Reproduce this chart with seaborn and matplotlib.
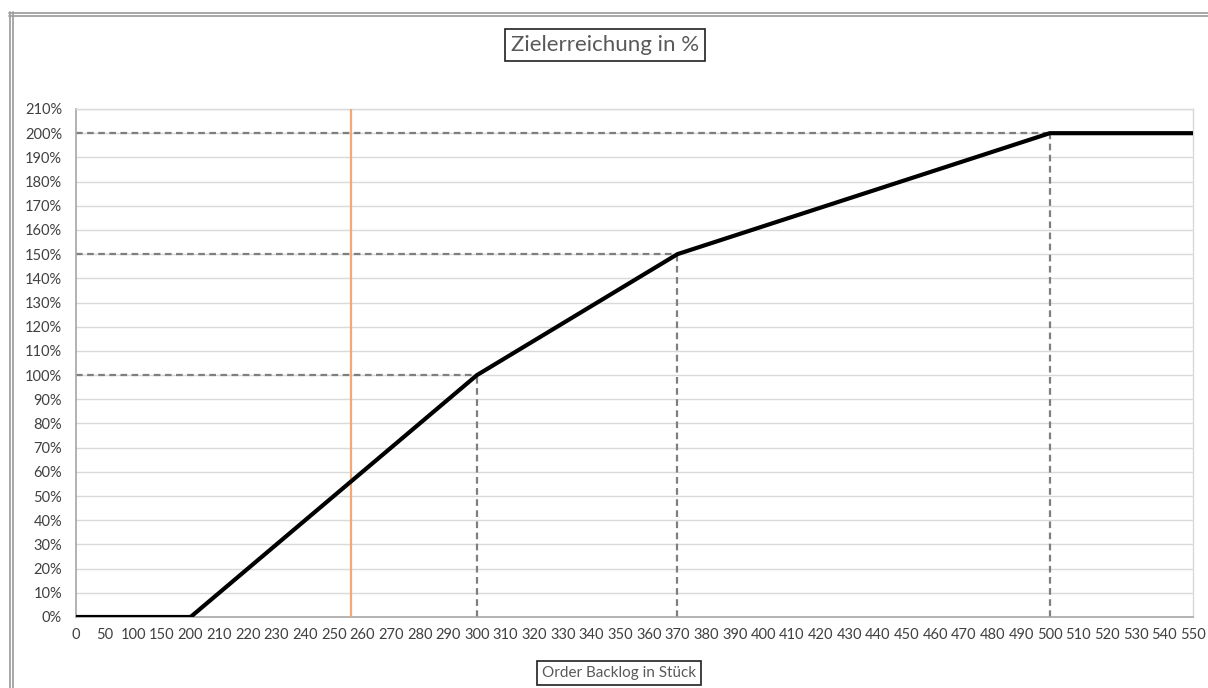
import numpy as np
import pandas as pd
import matplotlib
matplotlib.use("Agg")
import matplotlib.pyplot as plt
from matplotlib.lines import Line2D
from matplotlib.ticker import FuncFormatter, MultipleLocator
import seaborn as sns

# ---- data ----
category_labels = [0, 50, 100, 150, 200, 210, 220, 230, 240, 250, 260, 270, 280, 290,
                   300, 310, 320, 330, 340, 350, 360, 370, 380, 390, 400, 410, 420,
                   430, 440, 450, 460, 470, 480, 490, 500, 510, 520, 530, 540, 550]
backlog = [0, 200, 300, 370, 500, 550]
target_pct = [0, 0, 100, 150, 200, 200]
ref_backlog = [300, 370, 500]
ref_pct = [100, 150, 200]
current_backlog = 256

title_text = "Zielerreichung in %"
xlabel_text = "Order Backlog in Stück"

# ---- setup ----
sns.set_theme(style="white")
plt.rcParams["font.family"] = ["Lato", "DejaVu Sans"]

W, H = 1208, 688
fig = plt.figure(figsize=(W / 100, H / 100), dpi=100)
ax = fig.add_axes([76 / W, 1 - 617 / H, (1193 - 76) / W, (617 - 109) / H])

idx = np.arange(len(category_labels))
def pos(v):
    return float(np.interp(v, category_labels, idx))

df = pd.DataFrame({"pos": [pos(v) for v in backlog], "pct": target_pct})

# grid lines
for yv in range(10, 211, 10):
    ax.axhline(yv, color="#d9d9d9", lw=1.0, zorder=0)

# reference dashed lines
for b, p in zip(ref_backlog, ref_pct):
    xp = pos(b)
    ax.plot([0, xp], [p, p], color="#7f7f7f", lw=1.6, ls=(0, (3, 2)), zorder=2)
    ax.plot([xp, xp], [0, p], color="#7f7f7f", lw=1.6, ls=(0, (3, 2)), zorder=2)

# current value marker line
ax.axvline(pos(current_backlog), color="#f4a878", lw=1.6, zorder=3)

# main line
sns.lineplot(data=df, x="pos", y="pct", ax=ax, color="black", lw=3.0, zorder=4,
             solid_capstyle="butt")

ax.set_xlim(0, len(category_labels) - 1)
ax.set_ylim(0, 210)
ax.set_xticks(idx)
ax.set_xticklabels([str(c) for c in category_labels])
ax.yaxis.set_major_locator(MultipleLocator(10))
ax.yaxis.set_major_formatter(FuncFormatter(lambda v, _: f"{int(round(v))}%"))

ax.tick_params(axis="x", direction="in", length=4, width=1, color="#a6a6a6",
               labelsize=10.5, labelcolor="#404040", pad=8)
ax.tick_params(axis="y", length=0, labelsize=10.5, labelcolor="#404040", pad=10)
ax.set_xlabel("")
ax.set_ylabel("")

for s in ["top", "right"]:
    ax.spines[s].set_color("#d9d9d9")
    ax.spines[s].set_linewidth(1.0)
for s in ["left", "bottom"]:
    ax.spines[s].set_color("#a6a6a6")
    ax.spines[s].set_linewidth(1.2)

# title and x-axis label in boxes
fig.text(605 / W, 1 - 45 / H, title_text, ha="center", va="center", fontsize=16,
         color="#595959",
         bbox=dict(boxstyle="square,pad=0.28", fc="white", ec="#202020", lw=1.2))
fig.text(619 / W, 1 - 673 / H, xlabel_text, ha="center", va="center", fontsize=11,
         color="#595959",
         bbox=dict(boxstyle="square,pad=0.3", fc="white", ec="#202020", lw=1.2))

# outer frame (double gray line on top and left)
for yy in (12.5, 15.5):
    fig.add_artist(Line2D([9 / W, 1], [1 - yy / H, 1 - yy / H], transform=fig.transFigure,
                          color="#a0a0a0", lw=1.3))
for xx in (9.5, 12.5):
    fig.add_artist(Line2D([xx / W, xx / W], [0, 1 - 12 / H], transform=fig.transFigure,
                          color="#a0a0a0", lw=1.3))

fig.savefig("out.png", dpi=100)
